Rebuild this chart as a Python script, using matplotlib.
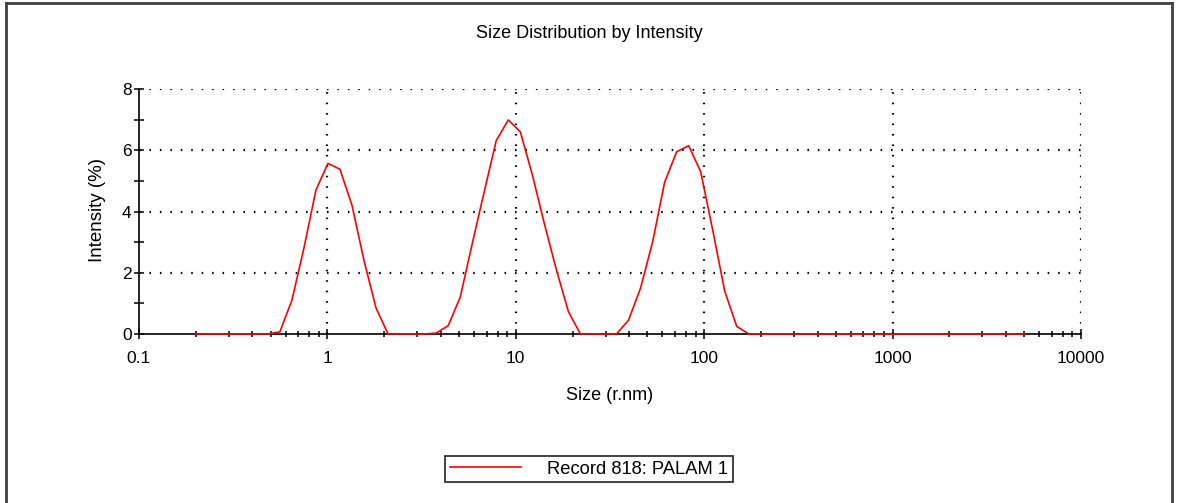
import matplotlib
matplotlib.use("Agg")
import matplotlib.pyplot as plt
from matplotlib.lines import Line2D
from matplotlib.ticker import LogLocator, FixedLocator, NullFormatter, FixedFormatter

plt.rcParams['font.family'] = ['Liberation Sans', 'DejaVu Sans']

# Size bins (radius, nm) of the distribution
size_nm = [0.2, 0.2316, 0.2683, 0.3107, 0.3599, 0.4169, 0.4829, 0.5593, 0.6479, 0.7504,
           0.8692, 1.007, 1.166, 1.351, 1.564, 1.812, 2.099, 2.431, 2.816, 3.262,
           3.778, 4.376, 5.069, 5.872, 6.801, 7.878, 9.125, 10.57, 12.24, 14.18,
           16.42, 19.02, 22.03, 25.52, 29.56, 34.24, 39.66, 45.94, 53.21, 61.63,
           71.39, 82.69, 95.78, 110.9, 128.5, 148.8, 172.4, 199.7, 231.3, 267.9,
           310.3, 359.4, 416.3, 482.2, 558.6, 647.0, 749.4, 868.0, 1005, 1165,
           1349, 1562, 1810, 2096, 2428, 2813, 3258, 3774, 4371, 5000]

# Intensity (%) per bin
intensity = [0, 0, 0, 0, 0, 0, 0, 0.07, 1.1, 2.8,
             4.7, 5.57, 5.38, 4.2, 2.4, 0.85, 0, 0, 0, 0,
             0.03, 0.27, 1.2, 2.95, 4.65, 6.32, 6.99, 6.6, 5.2, 3.6,
             2.1, 0.73, 0, 0, 0, 0, 0.45, 1.5, 3.0, 4.95,
             5.95, 6.15, 5.3, 3.4, 1.4, 0.25, 0, 0, 0, 0,
             0, 0, 0, 0, 0, 0, 0, 0, 0, 0,
             0, 0, 0, 0, 0, 0, 0, 0, 0, 0]

x_ticks = [0.1, 1, 10, 100, 1000, 10000]
x_tick_labels = ['0.1', '1', '10', '100', '1000', '10000']
y_ticks = [0, 2, 4, 6, 8]

title = 'Size Distribution by Intensity'
x_label = 'Size (r.nm)'
y_label = 'Intensity (%)'
record_label = 'Record 818: PALAM 1'

W, H = 1177, 503
fig = plt.figure(figsize=(W / 100, H / 100), dpi=100)
fig.patch.set_facecolor('white')

ax = fig.add_axes([139 / W, 1 - 334 / H, (1081 - 139) / W, (334 - 89) / H])
ax.set_xscale('log')
ax.set_xlim(0.1, 10000)
ax.set_ylim(0, 8)

line, = ax.plot(size_nm, intensity, color='#ff0000', lw=1.2, zorder=3,
                clip_on=False, label=record_label)

# spines
for s in ('top', 'right'):
    ax.spines[s].set_visible(False)
for s in ('left', 'bottom'):
    ax.spines[s].set_color('black')
    ax.spines[s].set_linewidth(1.2)
    ax.spines[s].set_zorder(2)

# ticks
ax.xaxis.set_major_locator(FixedLocator(x_ticks))
ax.xaxis.set_major_formatter(FixedFormatter(x_tick_labels))
ax.xaxis.set_minor_locator(LogLocator(base=10, subs=range(2, 10), numticks=20))
ax.xaxis.set_minor_formatter(NullFormatter())
ax.yaxis.set_major_locator(FixedLocator(y_ticks))
ax.yaxis.set_minor_locator(FixedLocator([1, 3, 5, 7]))

ax.tick_params(axis='both', which='major', direction='inout', length=6.5, width=1.1,
               labelsize=12.5, color='black', pad=2)
ax.tick_params(axis='both', which='minor', direction='inout', length=4.5, width=1.1,
               color='black')
ax.tick_params(axis='y', which='minor', length=6.5)
ax.tick_params(axis='x', which='major', pad=9)

# dotted grid at the major ticks
grid_style = dict(color='black', lw=1.6, ls=(0, (0.7, 4.0)), zorder=1)
for xv in x_ticks[1:]:
    ax.axvline(xv, **grid_style)
for yv in y_ticks[1:]:
    ax.axhline(yv, **grid_style)

# tick marks drawn above the data line
for t in (ax.xaxis.get_major_ticks() + ax.xaxis.get_minor_ticks()
          + ax.yaxis.get_major_ticks() + ax.yaxis.get_minor_ticks()):
    t.tick1line.set_zorder(5)
    t.tick2line.set_zorder(5)
ax.set_axisbelow(False)

fig.text(589 / W, 1 - 34 / H, title, ha='center', va='center', fontsize=13)
fig.text(610 / W, 1 - 395 / H, x_label, ha='center', va='center', fontsize=13)
fig.text(97 / W, 1 - 210 / H, y_label, ha='center', va='center', fontsize=13.5,
         rotation=90)

leg = fig.legend(handles=[line], labels=[record_label], loc='center',
                 bbox_to_anchor=(589 / W, 1 - 469 / H), fontsize=13.2,
                 frameon=True, fancybox=False, edgecolor='black',
                 handlelength=3.85, handletextpad=1.45, borderpad=0.25,
                 borderaxespad=0)
leg.get_frame().set_linewidth(1.3)

# outer frame of the report panel
frame_kw = dict(color='#404040', lw=2, transform=fig.transFigure)
fig.add_artist(Line2D([5.5 / W, 5.5 / W], [0, 1 - 2.5 / H], **frame_kw))
fig.add_artist(Line2D([5.5 / W, 1172 / W], [1 - 2.5 / H, 1 - 2.5 / H], **frame_kw))
fig.add_artist(Line2D([1172 / W, 1172 / W], [0, 1 - 2.5 / H], **frame_kw))

fig.savefig('out.png', dpi=100, facecolor='white')
